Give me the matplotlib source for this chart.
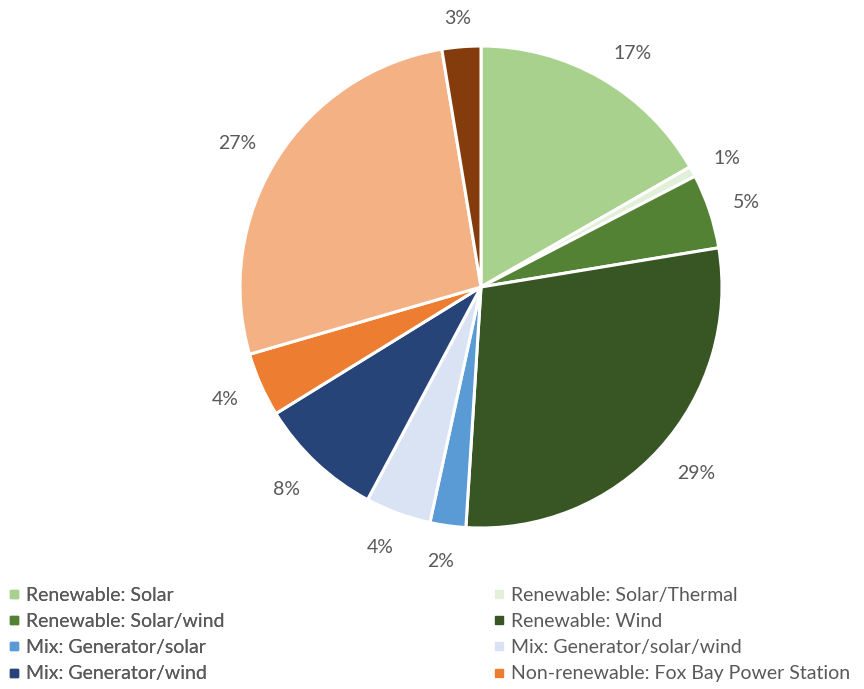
import matplotlib
matplotlib.use("Agg")
import numpy as np
import matplotlib.pyplot as plt
from matplotlib.lines import Line2D

# slice order: clockwise from 12 o'clock
categories = [
    "Renewable: Solar",
    "Renewable: Solar/Thermal",
    "Renewable: Solar/wind",
    "Renewable: Wind",
    "Mix: Generator/solar",
    "Mix: Generator/solar/wind",
    "Mix: Generator/wind",
    "Non-renewable: Fox Bay Power Station",
    "Non-renewable: other",
    "Non-renewable: other (2)",
]
shares = [16.7, 0.7, 5.0, 28.6, 2.4, 4.4, 8.4, 4.3, 26.9, 2.6]
colors = ["#A9D18E", "#E2F0D9", "#548235", "#375623", "#5B9BD5",
          "#DAE3F3", "#264478", "#ED7D31", "#F4B183", "#843C0C"]
legend_left = [0, 2, 4, 6]
legend_right = [1, 3, 5, 7]

TEXT = "#595959"
FS = 14
plt.rcParams["font.family"] = ["Lato", "DejaVu Sans"]

W, H = 864, 689
fig = plt.figure(figsize=(W / 100, H / 100), dpi=100)

cx, cy, r = 481, 287, 241
ax = fig.add_axes([(cx - r) / W, (H - cy - r) / H, 2 * r / W, 2 * r / H])
wedges, _ = ax.pie(
    shares, colors=colors, startangle=90, counterclock=False,
    wedgeprops=dict(edgecolor="white", linewidth=2.2),
)
ax.set_xlim(-1, 1)
ax.set_ylim(-1, 1)
ax.set_aspect("equal")
ax.axis("off")

# data labels: box edge sits just outside the rim (Excel style)
renderer = fig.canvas.get_renderer()
total = sum(shares)
cum = np.cumsum([0] + shares[:-1])
for start, v in zip(cum, shares):
    theta = np.deg2rad((start + v / 2) / total * 360)
    s, c = np.sin(theta), np.cos(theta)
    t = ax.text(1.1 * s, 1.1 * c, f"{v / total * 100:.0f}%", color=TEXT,
                fontsize=FS, ha="center", va="center")
    hw = t.get_window_extent(renderer).width / 2
    dx = hw * np.clip(2 * s, -1, 1) / 100 * 72
    dy = 3 * c if c > 0 else 9 * c
    t.set_transform(ax.transData + matplotlib.transforms.ScaledTranslation(
        dx / 72, dy / 72, fig.dpi_scale_trans))


def make_legend(idx, x0):
    handles = [Line2D([], [], marker="s", linestyle="", markersize=5.5,
                      markerfacecolor=colors[i], markeredgecolor=colors[i])
               for i in idx]
    labels = [categories[i] for i in idx]
    return fig.legend(handles, labels, loc="upper left",
                      bbox_to_anchor=(x0 / W, 1 - 587 / H), frameon=False,
                      fontsize=FS, labelcolor=TEXT, handlelength=0.55,
                      handletextpad=0.3, labelspacing=0.47,
                      borderaxespad=0, borderpad=0)


leg1 = make_legend(legend_left, 9)
fig.add_artist(leg1)
make_legend(legend_right, 494)

fig.savefig("out.png", dpi=100)
